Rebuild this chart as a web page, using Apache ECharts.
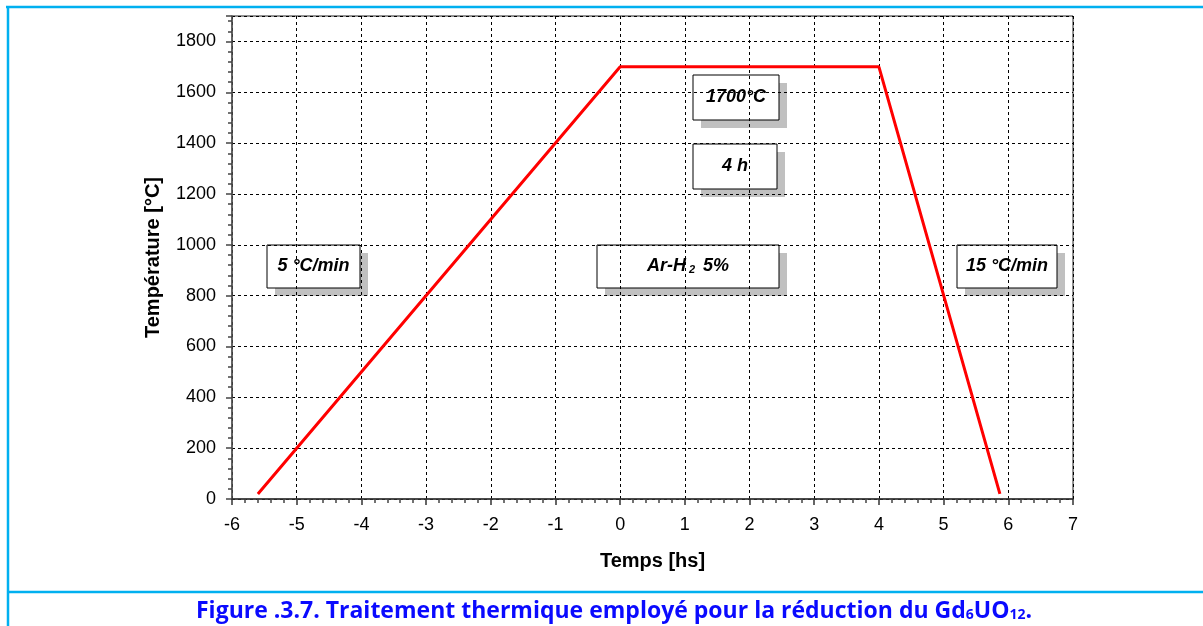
<!DOCTYPE html>
<html>
<head>
<meta charset="utf-8">
<script src="https://cdn.jsdelivr.net/npm/echarts@6/dist/echarts.min.js"></script>
<style>
html,body{margin:0;padding:0;background:#fff;}
#c{width:1203px;height:626px;}
</style>
</head>
<body>
<div id="c"></div>
<script>
// Data (time in hours, temperature in °C)
const timeHours = [-5.6, 0, 4, 5.87];
const temperature = [20, 1700, 1700, 20];
const xTicks = [-6, -5, -4, -3, -2, -1, 0, 1, 2, 3, 4, 5, 6, 7];
const yTicks = [0, 200, 400, 600, 800, 1000, 1200, 1400, 1600, 1800];
const xTitle = 'Temps [hs]';
const yTitle = 'Température [°C]';
const labelTexts = ['1700°C', '4 h', '5 °C/min', 'Ar-H|2| 5%', '15 °C/min'];
const captionText = 'Figure .3.7. Traitement thermique employé pour la réduction du Gd';

const chart = echarts.init(document.getElementById('c'), null, {renderer: 'canvas'});

const boxFont = 'bold italic 18px "Liberation Sans", Arial, sans-serif';
function box(x, y, w, h, text) {
  let content;
  let rich = {
    a: {font: boxFont, fill: '#000'},
    s: {font: 'bold italic 11px "Liberation Sans", Arial, sans-serif', fill: '#000', padding: [7, 3, 0, 3]}
  };
  if (text.indexOf('|') >= 0) {
    const p = text.split('|');
    content = '{a|' + p[0] + '}{s|' + p[1] + '}{a|' + p[2] + '}';
  } else {
    content = '{a|' + text + '}';
  }
  return {
    type: 'group', z: 100,
    children: [
      {type: 'rect', shape: {x: x + 8, y: y + 8, width: w, height: h}, style: {fill: '#c0c0c0'}},
      {type: 'rect', shape: {x: x, y: y, width: w, height: h}, style: {fill: '#fff', stroke: '#000', lineWidth: 1}},
      {type: 'text', x: x + w / 2, y: y + h / 2, style: {text: content, rich: rich, align: 'center', verticalAlign: 'middle'}}
    ]
  };
}

const frame = '#00b0f0';
const font = '"Liberation Sans", Arial, sans-serif';
const option = {
  animation: false,
  backgroundColor: '#fff',
  grid: {left: 232, right: 130, top: 16, bottom: 127, show: true, borderColor: '#222', borderWidth: 1, backgroundColor: 'transparent'},
  xAxis: {
    type: 'value', min: xTicks[0], max: xTicks[xTicks.length - 1], interval: 1,
    name: xTitle, nameLocation: 'middle', nameGap: 52,
    nameTextStyle: {fontFamily: font, fontWeight: 'bold', fontSize: 20, color: '#000'},
    axisLine: {show: true, onZero: false, lineStyle: {color: '#333', width: 1.5}},
    axisTick: {show: true, inside: false, length: 6, lineStyle: {color: '#333', width: 1.5}},
    minorTick: {show: true, splitNumber: 5, length: 4, lineStyle: {color: '#444', width: 1.5}},
    axisLabel: {fontFamily: font, fontSize: 18, color: '#000', margin: 17},
    splitLine: {show: true, lineStyle: {color: '#000', type: [3, 3], width: 1}}
  },
  yAxis: {
    type: 'value', min: 0, max: 1900, interval: 200,
    name: yTitle, nameLocation: 'middle', nameGap: 69, nameRotate: 90,
    nameTextStyle: {fontFamily: font, fontWeight: 'bold', fontSize: 20, color: '#000'},
    axisLine: {show: true, onZero: false, lineStyle: {color: '#555', width: 1.5}},
    axisTick: {show: true, inside: false, length: 6, lineStyle: {color: '#444', width: 1.5}},
    minorTick: {show: true, splitNumber: 5, length: 4, lineStyle: {color: '#444', width: 1.5}},
    axisLabel: {fontFamily: font, fontSize: 18, color: '#000', margin: 16,
      formatter: v => (yTicks.indexOf(v) >= 0 ? String(v) : '')},
    splitLine: {show: true, lineStyle: {color: '#000', type: [3, 3], width: 1}}
  },
  series: [{
    type: 'line',
    data: timeHours.map((t, i) => [t, temperature[i]]),
    symbol: 'none',
    lineStyle: {color: '#ff0000', width: 3},
    z: 5
  }],
  graphic: [
    {type: 'line', shape: {x1: 6, y1: 7, x2: 1203, y2: 7}, style: {stroke: frame, lineWidth: 2.5}},
    {type: 'line', shape: {x1: 8, y1: 6, x2: 8, y2: 626}, style: {stroke: frame, lineWidth: 2.5}},
    {type: 'line', shape: {x1: 8, y1: 592, x2: 1203, y2: 592}, style: {stroke: frame, lineWidth: 2.5}},
    box(693, 75, 86, 45, labelTexts[0]),
    box(693, 144, 84, 45, labelTexts[1]),
    box(267, 245, 93, 43, labelTexts[2]),
    box(597, 245, 182, 43, labelTexts[3]),
    box(957, 245, 100, 43, labelTexts[4]),
    {
      type: 'text', x: 614, y: 611,
      style: {
        text: '{c|' + captionText + '}{s|6}{c|UO}{s|12}{c|.}',
        rich: {
          c: {font: 'bold 23px "Open Sans", sans-serif', fill: '#0a0aff'},
          s: {font: 'bold 14px "Open Sans", sans-serif', fill: '#0a0aff', padding: [8, 0, 0, 0]}
        },
        align: 'center', verticalAlign: 'middle'
      }
    }
  ]
};
chart.setOption(option);
</script>
</body>
</html>
